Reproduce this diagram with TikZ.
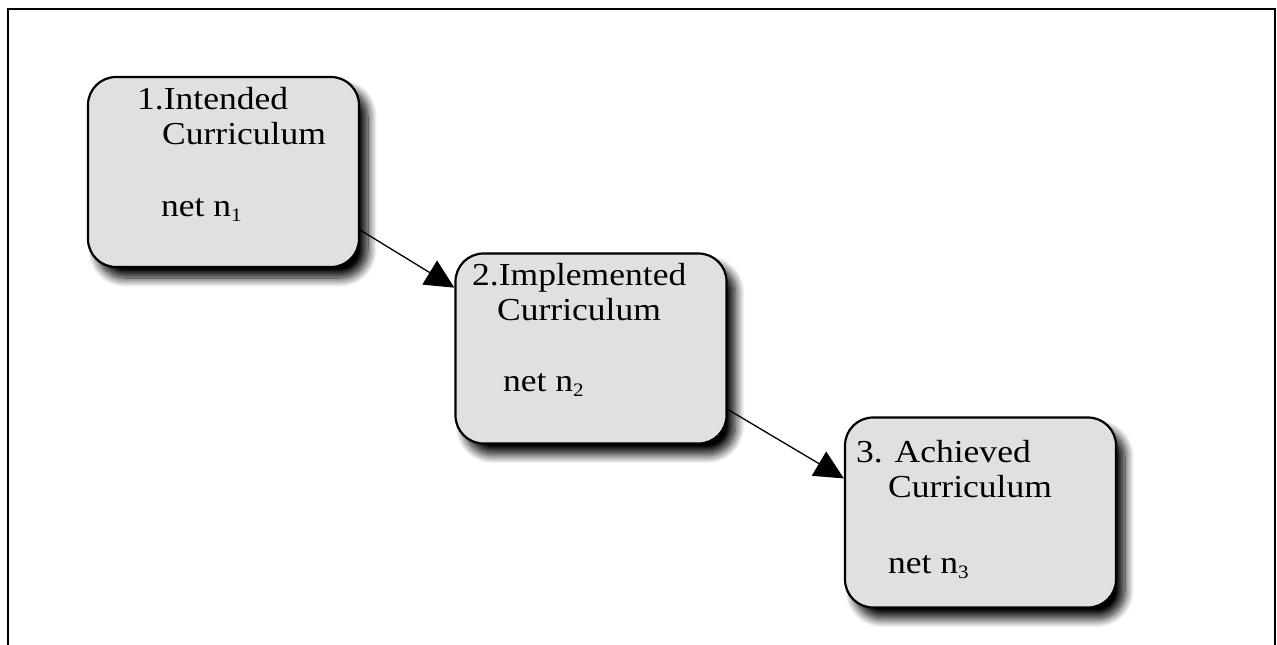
\documentclass[tikz,border=0pt]{standalone}
\usepackage{fontspec}
\setmainfont{Liberation Serif}
\usepackage{graphicx}
\usetikzlibrary{arrows.meta,shadows.blur}
\definecolor{boxfill}{HTML}{E0E0E0}
\newcommand\sx[1]{\scalebox{1.11}[1]{#1}}
\newcommand\subn[1]{\raisebox{-5pt}{\fontsize{19}{19}\selectfont #1}}
\tikzset{
  stagebox/.style={rectangle, rounded corners=28pt, draw=black, line width=2.2pt,
    fill=boxfill, minimum width=271pt, minimum height=190pt, inner sep=0pt,
    blur shadow={shadow xshift=9pt, shadow yshift=-11pt, shadow blur radius=9pt,
      shadow blur steps=14, shadow opacity=100, shadow blur extra rounding=2pt}},
  lbl/.style={anchor=base west, inner sep=0pt, font=\fontsize{32}{36}\selectfont},
  flow/.style={line width=1.3pt, -{Triangle[length=29pt,width=28pt]}},
  frame/.style={line width=2pt}
}
\begin{document}
\begin{tikzpicture}[x=1pt,y=-1pt]
\useasboundingbox (0,0) rectangle (1277,645);
\draw[frame] (8,645) -- (8,9) -- (1275,9) -- (1275,645);
\node[stagebox] (b1) at (223.5,172) {};
\node[stagebox] (b2) at (591,348.5) {};
\node[stagebox] (b3) at (980.5,512.5) {};
\node[lbl] (t1a) at (137,109) {\sx{1.Intended}};
\node[lbl] (t1b) at (162,144) {\sx{Curriculum}};
\node[lbl] (t1c) at (161,216) {\sx{net n\subn{1}}};
\node[lbl] (t2a) at (472,285) {\sx{2.Implemented}};
\node[lbl] (t2b) at (497,320) {\sx{Curriculum}};
\node[lbl] (t2c) at (503,391) {\sx{net n\subn{2}}};
\node[lbl] (t3a) at (856,462) {\sx{3. Achieved}};
\node[lbl] (t3b) at (888,497) {\sx{Curriculum}};
\node[lbl] (t3c) at (888,573) {\sx{net n\subn{3}}};
\draw[flow] (b1.-23.2) -- (b2.156.7);
\draw[flow] (b2.-24.3) -- (b3.166.1);
\end{tikzpicture}
\end{document}
